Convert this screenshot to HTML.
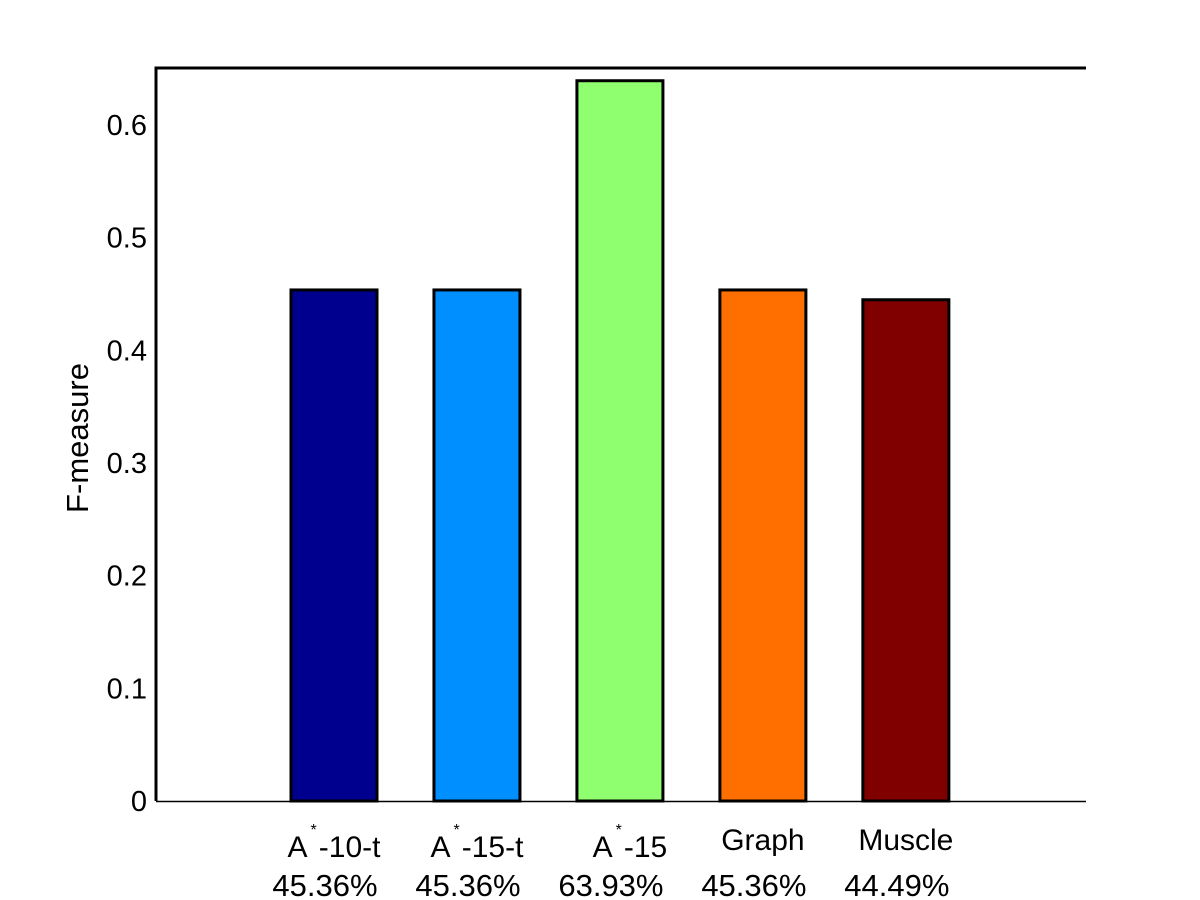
<!DOCTYPE html>
<html><head><meta charset="utf-8"><style>
body{margin:0;background:#fff;}
svg{display:block;font-family:"Liberation Sans",Arial,sans-serif;}
</style></head><body>
<svg id="chart" width="1200" height="900">
<g id="bars"></g>
<g id="axes"></g>
</svg>
<script>
const categories = ["A*-10-t","A*-15-t","A*-15","Graph","Muscle"];
const values = [0.4536,0.4536,0.6393,0.4536,0.4449];
const percentLabels = ["45.36%","45.36%","63.93%","45.36%","44.49%"];
const colors = ["#00008f","#008fff","#8fff6f","#ff6f00","#800000"];
const yTicks = [0,0.1,0.2,0.3,0.4,0.5,0.6];
const yTickLabels = ["0","0.1","0.2","0.3","0.4","0.5","0.6"];

const NS="http://www.w3.org/2000/svg";
const L=156,R=1086,T=68,B=801;
const yMax=0.6506, xMin=-0.245, xMax=6.26;
const y=v=>B-(v/yMax)*(B-T);
const x=i=>L+((i+1)-xMin)/(xMax-xMin)*(R-L);
const barW=86;
function mk(tag,attrs,parent){const e=document.createElementNS(NS,tag);for(const k in attrs)e.setAttribute(k,attrs[k]);parent.appendChild(e);return e;}
const bars=document.getElementById('bars'), axes=document.getElementById('axes');
values.forEach((v,i)=>{
  const r=mk('rect',{x:x(i)-barW/2,y:y(v),width:barW,height:B-y(v),fill:colors[i],stroke:'#000','stroke-width':3},bars);
  
  
  const name=categories[i];
  const t=mk('text',{x:x(i),y:857,'text-anchor':'middle','font-size':30},axes);
  
  
  if(name.startsWith('A*')){
    t.setAttribute('x',x(i)+(i===2?10:0));
    const a=mk('tspan',{},t);a.textContent='A';
    const s=mk('tspan',{dy:-22,dx:3,'font-size':16},t);s.textContent='*';
    const rest=mk('tspan',{dy:22,dx:2},t);rest.textContent=name.slice(2);
  } else {t.setAttribute('y',850);t.textContent=name;}
  const p=mk('text',{x:x(i)-9,y:896,'text-anchor':'middle','font-size':31},axes);
  
  
  p.textContent=percentLabels[i];
});
yTicks.forEach((v,i)=>{
  const t=mk('text',{x:147,y:y(v)+10,'text-anchor':'end','font-size':29},axes);
  
  
  t.textContent=yTickLabels[i];
});
const yl=mk('line',{x1:L,y1:T,x2:L,y2:B,stroke:'#000','stroke-width':3},axes);


const tl=mk('line',{x1:L-1.5,y1:T,x2:R,y2:T,stroke:'#000','stroke-width':3},axes);


const bl=mk('line',{x1:L,y1:B+0.5,x2:R,y2:B+0.5,stroke:'#000','stroke-width':1.5},axes);


const ttl=mk('text',{x:0,y:0,'text-anchor':'middle','font-size':31,transform:'translate(88,438) rotate(-90)'},axes);


ttl.textContent='F-measure';
</script>
</body></html>
